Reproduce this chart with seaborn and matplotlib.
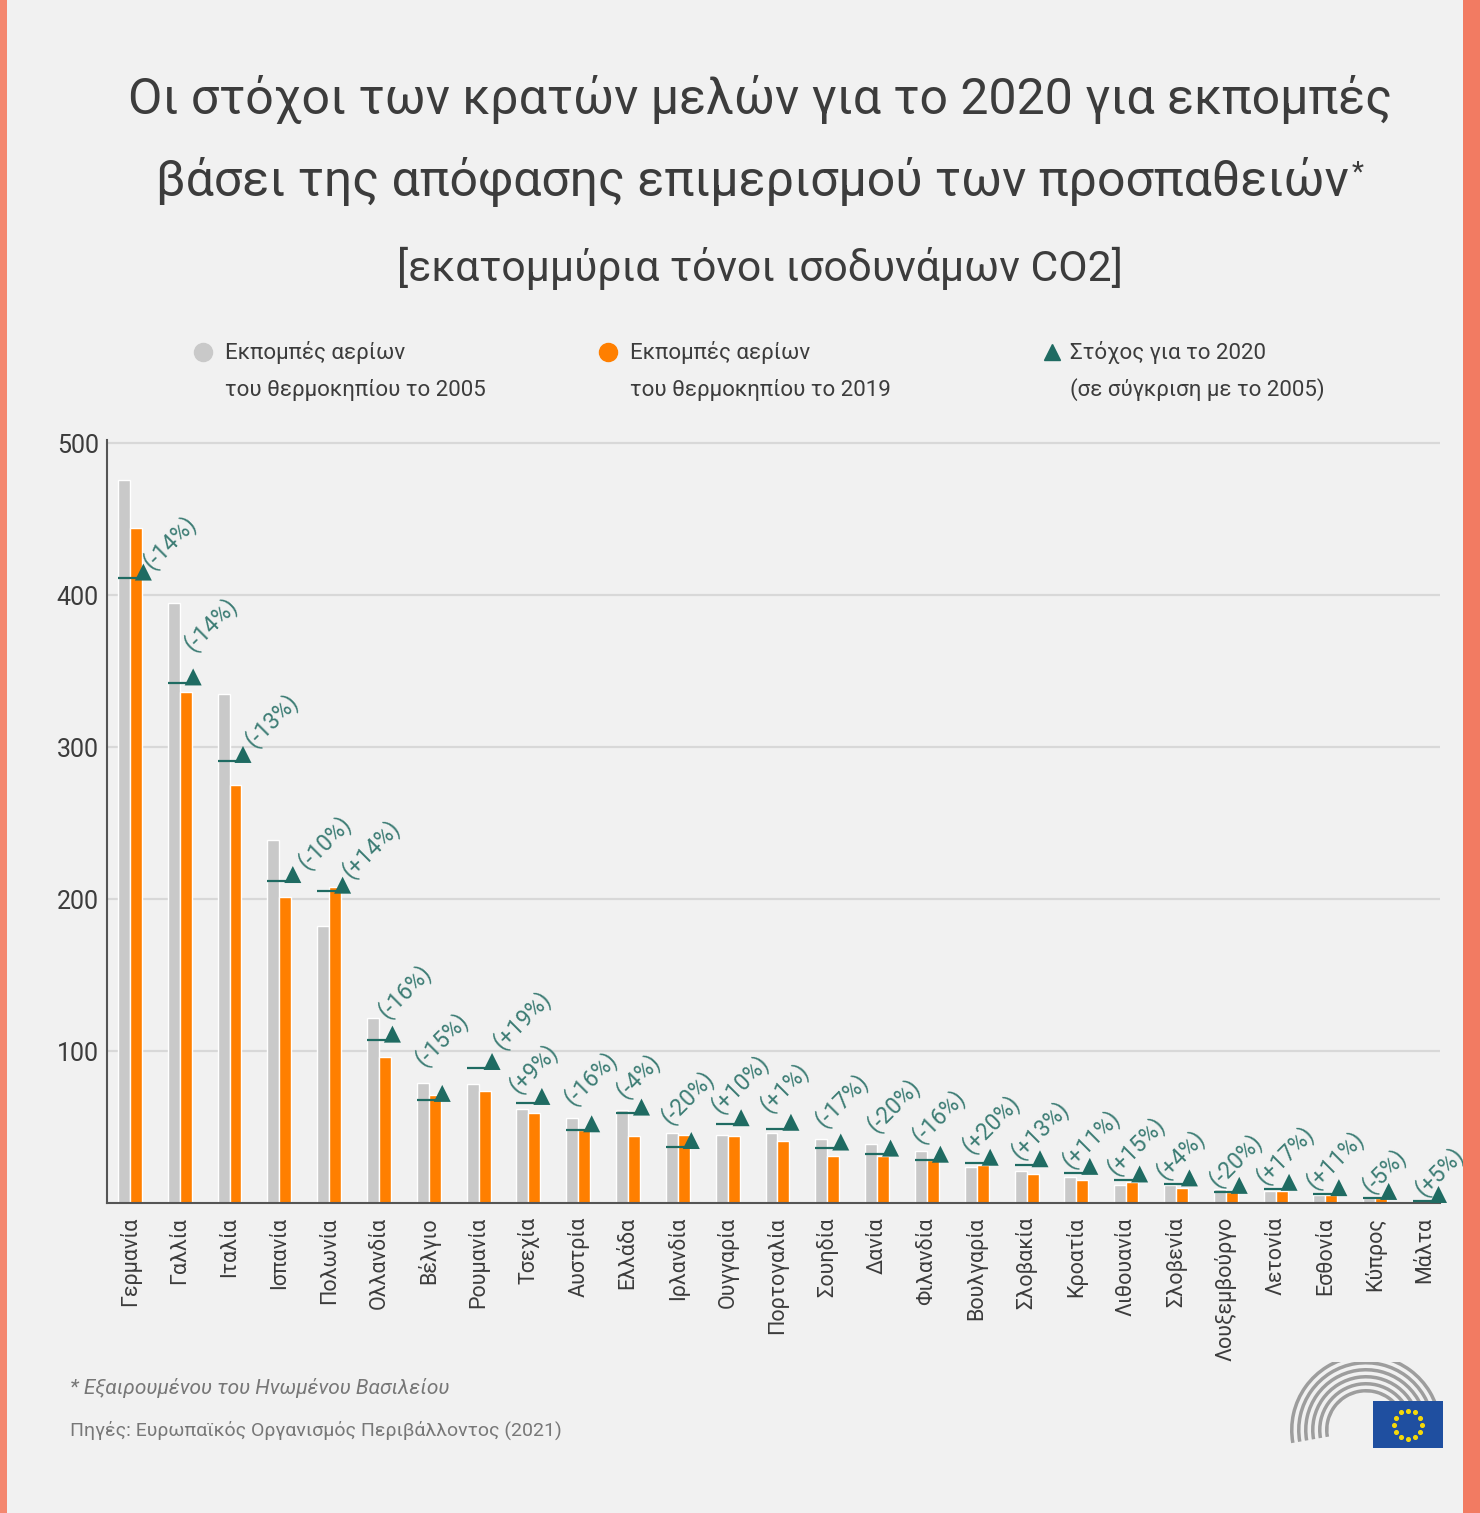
import numpy as np
import pandas as pd
import seaborn as sns
import matplotlib.pyplot as plt
from matplotlib.lines import Line2D
from matplotlib.patches import Rectangle, Wedge
import matplotlib.transforms as mtransforms

# Data (million tonnes CO2 equivalent)
countries = ['Γερμανία', 'Γαλλία', 'Ιταλία', 'Ισπανία', 'Πολωνία', 'Ολλανδία', 'Βέλγιο',
             'Ρουμανία', 'Τσεχία', 'Αυστρία', 'Ελλάδα', 'Ιρλανδία', 'Ουγγαρία', 'Πορτογαλία',
             'Σουηδία', 'Δανία', 'Φιλανδία', 'Βουλγαρία', 'Σλοβακία', 'Κροατία', 'Λιθουανία',
             'Σλοβενία', 'Λουξεμβούργο', 'Λετονία', 'Εσθονία', 'Κύπρος', 'Μάλτα']
emissions_2005 = [476, 395, 335, 239, 182, 122, 79, 78, 62, 56, 61, 46, 45, 46,
                  42, 39, 34, 24, 21, 17, 12, 12, 9, 8, 5.5, 3.6, 1.4]
emissions_2019 = [444, 336, 275, 201, 208, 96, 71, 74, 59, 48, 44, 45, 44, 41,
                  31, 31, 28, 25, 19, 15, 13.5, 10, 7, 7.7, 5, 3.5, 1.3]
target_2020 = [411, 342, 291, 212, 205, 107, 68, 89, 66, 48, 59, 37, 52, 49,
               36, 32, 28, 26, 25, 20, 15, 12.4, 7.5, 9.5, 6, 3.5, 1.5]
target_pct = ['-14', '-14', '-13', '-10', '+14', '-16', '-15', '+19', '+9', '-16', '-4',
              '-20', '+10', '+1', '-17', '-20', '-16', '+20', '+13', '+11', '+15', '+4',
              '-20', '+17', '+11', '-5', '+5']
series_names = ['2005', '2019']
y_ticks = [100, 200, 300, 400, 500]

# where each percentage label starts, in pixels from the target marker
label_dx = [12, 3, 15, 18, 12, -2, -15, 13, -20, -15, -13, -18, -18, -18, -13, -11, -16,
            -16, -17, -15, -20, -21, -18, -21, -20, -14, -11]
label_dy = [4, 27, 9, 7, 8, 17, 29, 14, 5, 20, 10, 18, 6, 12, 16, 17, 12, 5, 1, 0, 0,
            0, 0, 0, 0, 0, 0]

GREY = '#c9c9c9'
ORANGE = '#ff7f00'
TEAL = '#1f6b62'
TEAL_TXT = '#3d7d75'
DARK = '#3c3c3c'
BG = '#f1f1f1'

sns.set_style('white')
plt.rcParams['font.family'] = ['Roboto', 'DejaVu Sans']

df = pd.DataFrame({
    'country': countries * 2,
    'series': [series_names[0]] * len(countries) + [series_names[1]] * len(countries),
    'value': emissions_2005 + emissions_2019,
})

W, H = 1480, 1513
fig = plt.figure(figsize=(W / 100, H / 100), dpi=100, facecolor=BG)


def fx(px):
    return px / W


def fy(py):
    return 1 - py / H


ax = fig.add_axes([fx(107), fy(1203), fx(1440) - fx(107), fy(440) - fy(1203)])
ax.set_facecolor(BG)

sns.barplot(data=df, x='country', y='value', hue='series', order=countries,
            hue_order=series_names, palette=[GREY, ORANGE], width=0.48,
            saturation=1, legend=False, ax=ax, zorder=2)

x = np.arange(len(countries))
ax.hlines(target_2020, x - 0.24, x + 0.24, color=TEAL, lw=1.6, zorder=3)
# triangle sits with its base on the target line
tri_tr = ax.transData + mtransforms.ScaledTranslation(0, 4.5 / 72, fig.dpi_scale_trans)
ax.scatter(x + 0.27, target_2020, marker='^', s=150, color=TEAL, edgecolor='none',
           transform=tri_tr, zorder=4, clip_on=False)
for xi, t, p, dx, dy in zip(x, target_2020, target_pct, label_dx, label_dy):
    ax.annotate(f'({p}%)', xy=(xi + 0.27, t), xytext=(dx, dy), textcoords='offset pixels',
                rotation=45, rotation_mode='anchor', ha='left', va='bottom',
                fontsize=16.5, color=TEAL_TXT, annotation_clip=False, zorder=5)

ax.set_xlim(-0.46, 26.3)
ax.set_ylim(0, 502)
ax.set_yticks(y_ticks)
ax.set_yticklabels([str(v) for v in y_ticks])
ax.yaxis.grid(True, color='#d8d8d8', lw=1.6, zorder=0)
ax.set_axisbelow(True)
ax.tick_params(axis='y', length=0, labelsize=18, labelcolor=DARK, pad=6)
ax.tick_params(axis='x', length=0, labelsize=15.5, labelcolor=DARK, pad=10)
plt.setp(ax.get_xticklabels(), rotation=90, va='top', ha='center')
ax.set_xlabel('')
ax.set_ylabel('')
for side in ['top', 'right']:
    ax.spines[side].set_visible(False)
for side in ['left', 'bottom']:
    ax.spines[side].set_color('#555555')
    ax.spines[side].set_linewidth(1.5)

# Title
fig.text(fx(760), fy(100), 'Οι στόχοι των κρατών μελών για το 2020 για εκπομπές',
         ha='center', va='center', fontsize=36, color=DARK)
t2 = fig.text(fx(752), fy(182), 'βάσει της απόφασης επιμερισμού των προσπαθειών',
              ha='center', va='center', fontsize=36, color=DARK)
ax.annotate('*', xy=(1, 1), xycoords=t2, xytext=(2, -2), textcoords='offset points',
            ha='left', va='top', fontsize=20, color=DARK, annotation_clip=False)
fig.text(fx(760), fy(268), '[εκατομμύρια τόνοι ισοδυνάμων CO2]',
         ha='center', va='center', fontsize=30.7, color=DARK)

# Legend
legend_items = [
    (203, 'o', GREY, 225, 'Εκπομπές αερίων', 'του θερμοκηπίου το 2005'),
    (608, 'o', ORANGE, 630, 'Εκπομπές αερίων', 'του θερμοκηπίου το 2019'),
    (1052, '^', TEAL, 1070, 'Στόχος για το 2020', '(σε σύγκριση με το 2005)'),
]
for mx, mk, col, tx, l1, l2 in legend_items:
    fig.add_artist(Line2D([fx(mx)], [fy(352)], marker=mk, markersize=13 if mk == 'o' else 11,
                          color=col, lw=0, transform=fig.transFigure))
    fig.text(fx(tx), fy(352), l1, ha='left', va='center', fontsize=16, color=DARK)
    fig.text(fx(tx), fy(390), l2, ha='left', va='center', fontsize=16, color=DARK)

# Footer
fig.text(fx(70), fy(1388), '* Εξαιρουμένου του Ηνωμένου Βασιλείου', ha='left', va='center',
         fontsize=15, style='italic', color='#777777')
fig.text(fx(70), fy(1430), 'Πηγές: Ευρωπαϊκός Οργανισμός Περιβάλλοντος (2021)', ha='left',
         va='center', fontsize=14, color='#777777')

# Parliament logo (simplified)
lax = fig.add_axes([fx(1288), fy(1450), fx(1446) - fx(1288), fy(1362) - fy(1450)])
lax.set_xlim(0, 158)
lax.set_ylim(0, 88)
lax.set_aspect('equal')
lax.axis('off')
for r in [76, 69, 62, 55, 48, 41]:
    lax.add_patch(Wedge((78, 20), r, 8, 190, width=3.5, facecolor='#9d9d9d', edgecolor='none'))
lax.add_patch(Rectangle((85, 2), 70, 47, facecolor='#1f4fa0', edgecolor='none', zorder=3))
ang = np.linspace(0, 2 * np.pi, 13)[:-1]
lax.scatter(120 + 14 * np.cos(ang), 25.5 + 14 * np.sin(ang), s=7, color='#f5d90a', zorder=4)

# Side strips
fig.add_artist(Rectangle((0, 0), fx(7), 1, transform=fig.transFigure,
                         facecolor='#f4876f', edgecolor='none'))
fig.add_artist(Rectangle((fx(1463), 0), fx(17), 1, transform=fig.transFigure,
                         facecolor='#f27b62', edgecolor='none'))

plt.savefig('out.png', dpi=100, facecolor=BG)
